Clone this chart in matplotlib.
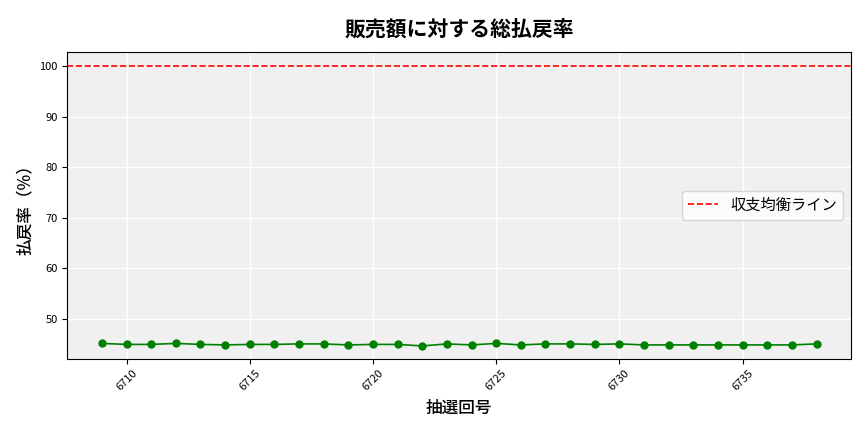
import matplotlib.pyplot as plt
import numpy as np

plt.rcParams['font.family'] = ['Noto Sans CJK JP', 'DejaVu Sans']

draws = list(range(6709, 6739))
rates = [45.1, 44.9, 44.9, 45.1, 44.9, 44.8, 44.9, 44.9, 45.0, 45.0,
         44.8, 44.9, 44.9, 44.6, 45.0, 44.8, 45.1, 44.8, 45.0, 45.0,
         44.9, 45.0, 44.8, 44.8, 44.8, 44.8, 44.8, 44.8, 44.8, 45.0]

fig, ax = plt.subplots(figsize=(8.64, 4.32), dpi=100)
fig.subplots_adjust(left=0.078, right=0.985, top=0.88, bottom=0.17)
ax.set_facecolor('#f0f0f0')
ax.grid(True, color='white', linewidth=1)
ax.set_axisbelow(True)

ax.plot(draws, rates, color='green', marker='o', markersize=5, linewidth=1.2)
ax.axhline(100, color='red', linestyle='--', linewidth=1.2, label='収支均衡ライン')

ax.set_ylim(42.1, 102.8)
ax.set_xlim(6707.6, 6739.4)
ax.set_xticks([6710, 6715, 6720, 6725, 6730, 6735])
ax.tick_params(axis='x', labelrotation=45, labelsize=8)
ax.tick_params(axis='y', labelsize=8)

ax.set_title('販売額に対する総払戻率', fontsize=15, fontweight='bold', pad=12)
ax.set_xlabel('抽選回号', fontsize=12, fontweight='medium')
ax.set_ylabel('払戻率（%）', fontsize=12, fontweight='medium')
ax.legend(loc='center right', fontsize=11)

fig.savefig('out.png')
